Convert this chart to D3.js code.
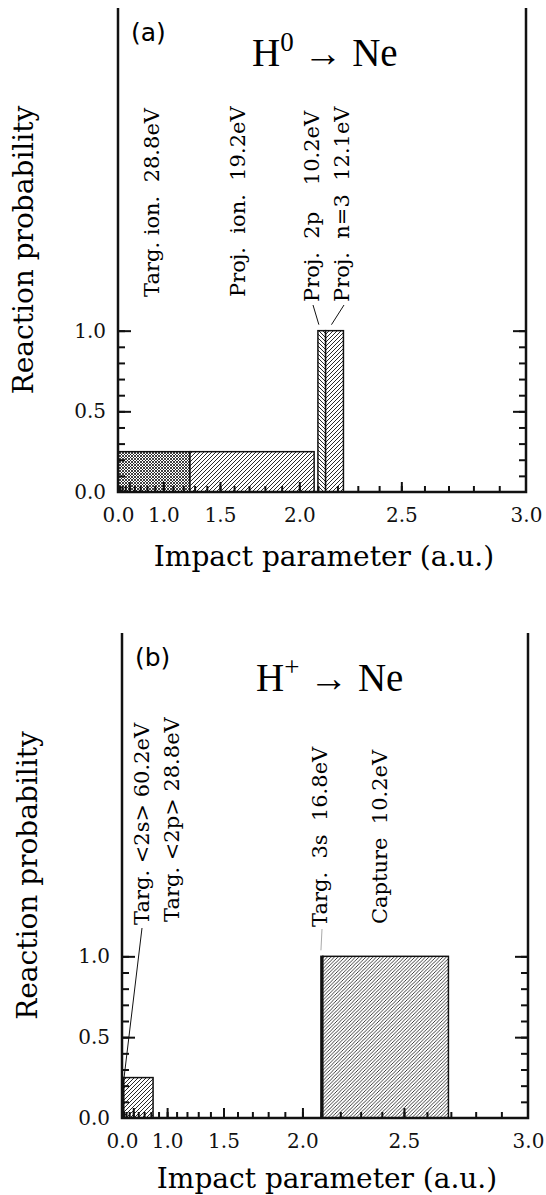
<html>
<head>
  <script src="https://d3js.org/d3.v7.min.js"></script>
</head>
<style>
  body { margin: 0; background: #fff; }
  .lbl { font-family: "DejaVu Serif", serif; font-size: 21px; white-space: pre; }
  .tick text { font-family: "DejaVu Serif", serif; font-size: 20px; fill: #111; }
  .axtitle { font-family: "DejaVu Serif", serif; font-size: 28px; }
  .ttl { font-family: "Liberation Serif", serif; font-size: 39px; }
  .panel { font-family: "DejaVu Sans", sans-serif; font-size: 25px; }
</style>
<body>
  <svg id="fig" width="546" height="1195"></svg>
  <script>

    // panel (a)  H0 -> Ne
    const aStart = [0, 1.26, 2.10, 2.14];
    const aEnd = [1.26, 2.08, 2.14, 2.23];
    const aProb = [0.25, 0.25, 1.0, 1.0];
    const aHatch = ["cross", "fwd", "back", "fwd"];
    const aLabels = ["Targ. ion.  28.8eV", "Proj.  ion.  19.2eV", "Proj.  2p    10.2eV", "Proj.  n=3  12.1eV"];

    // panel (b)  H+ -> Ne
    const bStart = [0, 0, 2.10, 2.11];
    const bEnd = [0.83, 0.2, 2.11, 2.69];
    const bProb = [0.25, 0.25, 1.0, 1.0];
    const bHatch = ["fwd", "solid", "solid", "fine"];
    const bLabels = ["Targ. <2s> 60.2eV", "Targ. <2p> 28.8eV", "Targ.  3s  16.8eV", "Capture  10.2eV"];

    // ticks
    const xLabelTicks = [0, 1.0, 1.5, 2.0, 2.5, 3.0];
    const xMajor = [0.5, 1.0, 1.5, 2.0, 2.5];
    const xMinor = d3.range(1, 30).map(d => d / 10);
    const yLabelTicks = [0, 0.5, 1.0];
    const yMajor = [0.5, 1.0];
    const yMinor = d3.range(1, 11).map(d => d / 10);

    const svg = d3.select("svg#fig");
    const defs = svg.append("defs");

    function hatch(id, size, paths, sw) {
      const p = defs.append("pattern").attr("id", id)
        .attr("patternUnits", "userSpaceOnUse")
        .attr("width", size).attr("height", size);
      p.append("rect").attr("width", size).attr("height", size).attr("fill", "#fff");
      paths.forEach(d => p.append("path").attr("d", d).attr("stroke", "#111").attr("stroke-width", sw));
    }
    hatch("fwd", 4, ["M-1,1 l2,-2 M0,4 l4,-4 M3,5 l2,-2"], 0.9);
    hatch("fine", 3.5, ["M-1,1 l2,-2 M0,3.5 l3.5,-3.5 M2.5,4.5 l2,-2"], 0.8);
    hatch("back", 4, ["M-1,3 l2,2 M0,0 l4,4 M3,-1 l2,2"], 0.9);
    hatch("cross", 3, ["M-1,1 l2,-2 M0,3 l3,-3 M2,4 l2,-2", "M-1,2 l2,2 M0,0 l3,3 M2,-1 l2,2"], 0.8);

    function fillOf(h) {
      return h === "solid" ? "#111" : `url(#${h})`;
    }

    function drawPanel(cfg) {
      const x = d3.scalePow().exponent(2).domain([0, 3]).range([cfg.left, cfg.right]);
      const y = d3.scaleLinear().domain([0, 3]).range([cfg.bottom, cfg.top]);
      const g = svg.append("g");

      const bars = cfg.start.map((s, i) => ({ s, e: cfg.end[i], p: cfg.prob[i], h: cfg.hatch[i] }));
      g.selectAll("rect.bar").data(bars).join("rect")
        .attr("class", "bar")
        .attr("x", d => x(d.s))
        .attr("width", d => x(d.e) - x(d.s))
        .attr("y", d => y(d.p))
        .attr("height", d => y(0) - y(d.p))
        .attr("fill", d => fillOf(d.h))
        .attr("stroke", "#111")
        .attr("stroke-width", 1.5);

      // bottom axis
      const bot = g.append("g").attr("transform", `translate(0,${cfg.bottom})`);
      bot.append("g").call(d3.axisBottom(x).tickValues(xMinor).tickSize(-6).tickFormat(""));
      bot.append("g").call(d3.axisBottom(x).tickValues(xMajor).tickSize(-10).tickFormat(""));
      bot.append("g").call(d3.axisBottom(x).tickValues(xLabelTicks).tickSize(0).tickPadding(16).tickFormat(d3.format(".1f")));

      // left and right axes
      [["L", cfg.left, d3.axisLeft], ["R", cfg.right, d3.axisRight]].forEach(([side, px, ax]) => {
        const a = g.append("g").attr("transform", `translate(${px},0)`);
        a.append("g").call(ax(y).tickValues(yMinor).tickSize(-7).tickFormat(""));
        a.append("g").call(ax(y).tickValues(yMajor).tickSize(-13).tickFormat(""));
        if (side === "L")
          a.append("g").call(ax(y).tickValues(yLabelTicks).tickSize(0).tickPadding(12).tickFormat(d3.format(".1f")));
      });
      g.selectAll(".domain").remove();
      g.selectAll(".tick line").attr("stroke", "#111").attr("stroke-width", 2);

      // frame (open at top)
      g.append("path")
        .attr("d", `M${cfg.left},${cfg.top} V${cfg.bottom} H${cfg.right} V${cfg.top}`)
        .attr("fill", "none").attr("stroke", "#111").attr("stroke-width", 2.5);

      // rotated annotations
      cfg.labels.forEach((t, i) => {
        const [lx, ly] = cfg.labelPos[i];
        g.append("text").attr("class", "lbl")
          .attr("transform", `translate(${lx},${ly}) rotate(-90)`)
          .attr("dominant-baseline", "central")
          .attr("xml:space", "preserve")
          .text(t);
      });
      cfg.leaders.forEach(l => {
        g.append("line")
          .attr("x1", l.from[0]).attr("y1", l.from[1])
          .attr("x2", x(l.to[0])).attr("y2", y(l.to[1]) + (l.dy || 0))
          .attr("stroke", l.color || "#111").attr("stroke-width", 1);
      });

      // titles
      g.append("text").attr("class", "panel")
        .attr("x", cfg.left + 13).attr("y", cfg.top + 33).text(cfg.tag);
      const tt = g.append("text").attr("class", "ttl")
        .attr("x", cfg.left + 134).attr("y", cfg.top + 58);
      tt.append("tspan").text("H");
      tt.append("tspan").attr("dy", -15).attr("font-size", 27).text(cfg.sup);
      tt.append("tspan").attr("dy", 15).text(" \u2192  Ne");

      g.append("text").attr("class", "axtitle")
        .attr("x", (cfg.left + cfg.right) / 2 + 2).attr("y", cfg.bottom + cfg.titleDy)
        .attr("text-anchor", "middle").text("Impact parameter (a.u.)");
      g.append("text").attr("class", "axtitle")
        .attr("transform", `translate(${cfg.left - 85},${(cfg.top + cfg.bottom) / 2}) rotate(-90)`)
        .attr("text-anchor", "middle").text("Reaction probability");
    }

    drawPanel({
      left: 118, right: 526, top: 8, bottom: 492, tag: "(a)", sup: "0", titleDy: 74,
      start: aStart, end: aEnd, prob: aProb, hatch: aHatch, labels: aLabels,
      labelPos: [[152, 297], [238, 297], [312, 302], [342, 302]],
      leaders: [
        { from: [313, 305], to: [2.105, 1.0], dy: -6 },
        { from: [344, 305], to: [2.17, 1.0], dy: -6 }
      ]
    });

    drawPanel({
      left: 122, right: 528, top: 633, bottom: 1118, tag: "(b)", sup: "+", titleDy: 70,
      start: bStart, end: bEnd, prob: bProb, hatch: bHatch, labels: bLabels,
      labelPos: [[142, 925], [172, 922], [320, 927], [380, 924]],
      leaders: [
        { from: [142, 928], to: [0.05, 0.15] },
        { from: [322, 929], to: [2.10, 1.0], dy: -6, color: "#aaa" }
      ]
    });

  </script>
</body>
</html>
